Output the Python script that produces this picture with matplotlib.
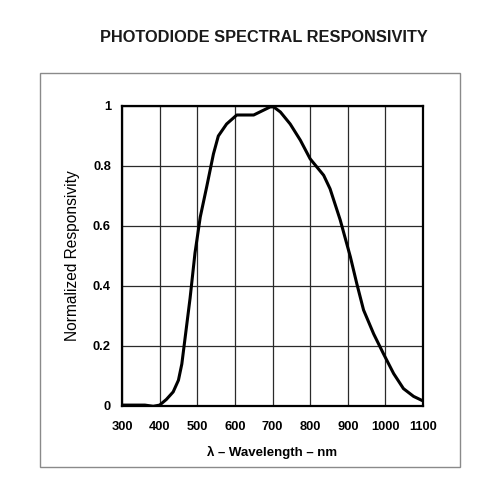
import matplotlib
matplotlib.use('Agg')
import matplotlib.pyplot as plt
from matplotlib.patches import Rectangle

plt.rcParams['font.family'] = ['Liberation Sans', 'DejaVu Sans']

# curve (wavelength nm, normalized responsivity)
wavelength = [300, 361, 383, 400, 418, 436, 450, 459, 468, 481, 494, 508, 525, 543,
              556, 578, 605, 650, 676, 694, 703, 721, 747, 774, 800, 836, 853, 880,
              907, 924, 942, 969, 995, 1022, 1048, 1075, 1100]
response = [0.003, 0.003, -0.001, 0.003, 0.022, 0.047, 0.086, 0.14, 0.23, 0.36, 0.51,
            0.63, 0.73, 0.84, 0.90, 0.94, 0.97, 0.97, 0.986, 0.997, 0.997, 0.98, 0.94,
            0.886, 0.824, 0.769, 0.724, 0.62, 0.497, 0.408, 0.32, 0.24, 0.174, 0.108,
            0.058, 0.032, 0.017]

xticks = [300, 400, 500, 600, 700, 800, 900, 1000, 1100]
yticks = [0, 0.2, 0.4, 0.6, 0.8, 1]
ylabels = ['0', '0.2', '0.4', '0.6', '0.8', '1']

fig = plt.figure(figsize=(5, 5), dpi=100)
fig.patch.set_facecolor('white')

# outer gray frame
fig.add_artist(Rectangle((40/500, 1-467/500), 420/500, 394/500, transform=fig.transFigure,
                         fill=False, ec='#8a8a8a', lw=1))

fig.text(0.528, 1-38/500, 'PHOTODIODE SPECTRAL RESPONSIVITY', ha='center', va='center',
         fontsize=11.8, fontweight='bold', color='#1a1a1a')

ax = fig.add_axes([122/500, 1-406/500, 301/500, 300/500])
ax.plot(wavelength, response, color='black', lw=2.2, solid_joinstyle='round', zorder=3)
ax.set_xlim(300, 1100)
ax.set_ylim(0, 1)
ax.set_xticks(xticks)
ax.set_yticks(yticks)
ax.set_yticklabels(ylabels)
ax.grid(True, color='#2a2a2a', lw=0.9)
ax.tick_params(length=0, labelsize=9.3)
ax.tick_params(axis='x', pad=11)
ax.tick_params(axis='y', pad=8)
for lab in ax.get_xticklabels() + ax.get_yticklabels():
    lab.set_fontweight('bold')
for s in ax.spines.values():
    s.set_linewidth(1.6)
ax.set_xlabel('λ – Wavelength – nm', fontsize=9.5, fontweight='bold', labelpad=9)
ax.set_ylabel('Normalized Responsivity', fontsize=11.2, labelpad=9)
ax.set_axisbelow(True)

fig.savefig('out.png', dpi=100, facecolor='white')
